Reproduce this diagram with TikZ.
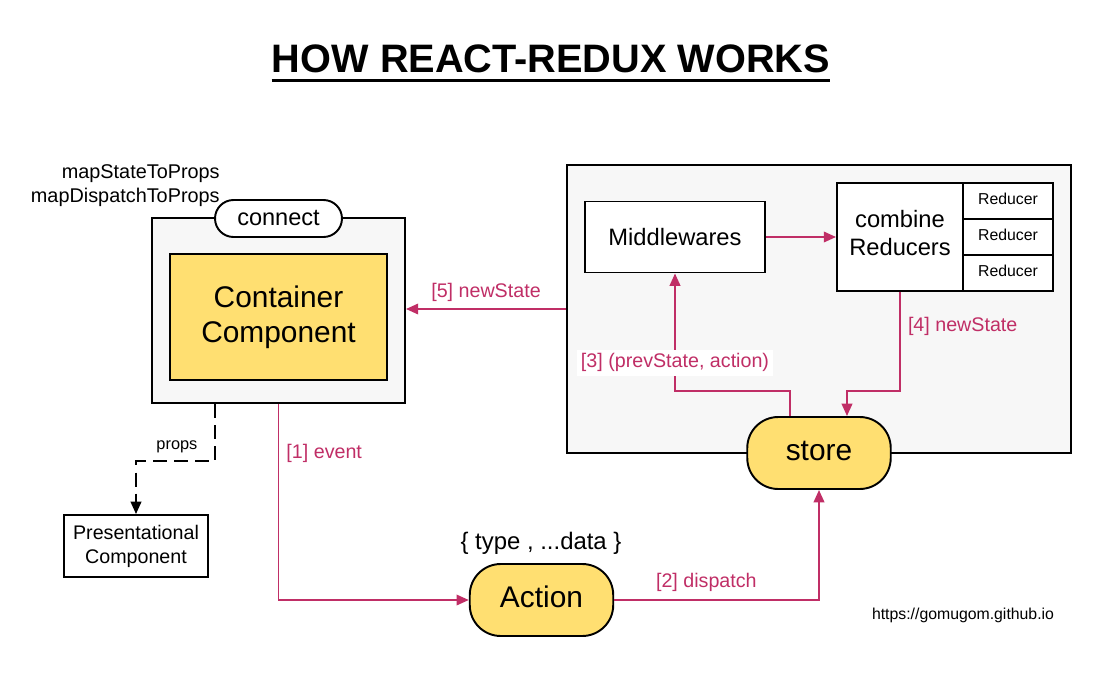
\documentclass[tikz,border=0pt]{standalone}
\usepackage{fontspec}
\setmainfont{Liberation Sans}
\usetikzlibrary{arrows.meta}
\definecolor{flowc}{RGB}{192,46,102}
\definecolor{yel}{RGB}{255,223,113}
\definecolor{bgrey}{RGB}{247,247,247}
\begin{document}
\begin{tikzpicture}
  [x=0.02cm,y=-0.02cm,
   every node/.style={inner sep=0pt},
   box/.style={draw,line width=1.1pt,rectangle},
   pill/.style={draw,line width=1.1pt,fill=yel,rounded corners=0.62cm,minimum width=2.87cm,minimum height=1.44cm,font=\fontsize{17}{20}\selectfont},
   flow/.style={draw=flowc,line width=1.1pt,-{Triangle[length=7pt,width=6pt]}},
   lbl/.style={text=flowc,font=\fontsize{11.2}{13}\selectfont}]
  \useasboundingbox (0,0) rectangle (1106,683);

  \node (title)[font=\fontsize{22.6}{26}\selectfont\bfseries] at (551,59) {HOW REACT-REDUX WORKS};
  \draw[line width=1.7pt] ([yshift=-4.5pt]title.base west) -- ([yshift=-4.5pt]title.base east);

  % connect side
  \node (cbox)[box,fill=bgrey,minimum width=5.06cm,minimum height=3.7cm] at (278.5,310.5) {};
  \node (conn)[box,fill=white,rounded corners=0.37cm,minimum width=2.54cm,minimum height=0.74cm,font=\fontsize{13.4}{16}\selectfont] at (278.5,218.5) {connect};
  \node (cont)[box,fill=yel,minimum width=4.34cm,minimum height=2.52cm,align=center,font=\fontsize{17}{19.8}\selectfont] at (278.5,317) {Container\\Component};
  \node (maps)[anchor=east,align=right,font=\fontsize{11.3}{13.6}\selectfont] at (220,186) {mapStateToProps\\mapDispatchToProps};
  \node (pres)[box,minimum width=2.88cm,minimum height=1.24cm,align=center,font=\fontsize{11.2}{13.6}\selectfont] at (136,546) {Presentational\\Component};

  % store side
  \node (sbox)[box,fill=bgrey,minimum width=10.08cm,minimum height=5.76cm] at (819,309) {};
  \node (mid)[box,fill=white,minimum width=3.6cm,minimum height=1.42cm,font=\fontsize{13.5}{16}\selectfont] at (675,237) {Middlewares};
  \node (comb)[box,fill=white,minimum width=2.52cm,minimum height=2.16cm,align=center,font=\fontsize{13.5}{16.2}\selectfont] at (900,237) {combine\\Reducers\\[-11.5pt]};
  \foreach \i/\y in {1/201,2/237,3/273}
    \node (red\i)[box,fill=white,minimum width=1.8cm,minimum height=0.72cm,font=\fontsize{9}{11}\selectfont] at (1008,\y) {Reducer\strut};
  \node (store)[pill] at (819,453) {store\strut};

  \node (action)[pill] at (541.5,600) {Action\strut};
  \node (adata)[font=\fontsize{13.6}{16}\selectfont] at (541,543) {\{ type , ...data \}};
  \node (url)[font=\fontsize{9}{11}\selectfont] at (963,615) {https://gomugom.github.io};

  % connectors
  \draw[flow] (mid.east) -- (comb.west);
  \draw[flow] (sbox.west) -- (sbox.west -| cbox.east) node[lbl,midway,above=3.5pt] {[5] newState};
  \draw[flow] (comb.south) -- ++(0,99) node[lbl,pos=.35,right=4pt] {[4] newState} -| ([xshift=0.56cm]store.north);
  \draw[flow] ([xshift=-0.58cm]store.north) -- ++(0,-25) -| (mid.south) node[lbl,pos=.62,fill=white,inner sep=2pt] {[3] (prevState, action)};
  \draw[flow] (cbox.south) |- (action.west) node[lbl,pos=.125,right=4pt] {[1] event};
  \draw[flow] (action.east) -| (store.south) node[lbl,pos=.225,above=4pt] {[2] dispatch};
  \draw[line width=1.1pt,dash pattern=on 8pt off 4pt,-{Triangle[length=7pt,width=6pt]}]
    ([xshift=-1.27cm]cbox.south) -- ++(0,57) node[pos=.76,left=9.5pt,font=\fontsize{9.3}{11}\selectfont] {props} -| (pres.north);

\end{tikzpicture}
\end{document}
